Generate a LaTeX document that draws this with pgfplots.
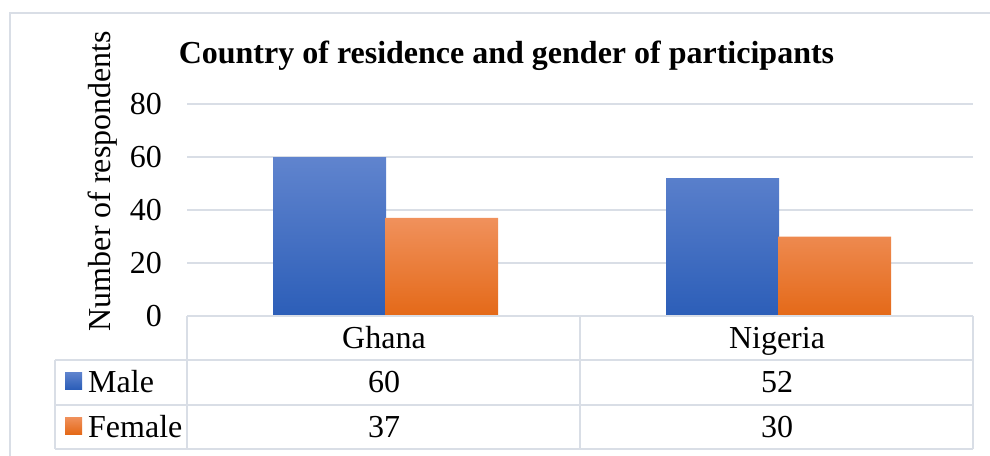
\documentclass[border=0pt]{standalone}
\usepackage{fontspec}
\setmainfont{Liberation Serif}
\usepackage{pgfplots}
\pgfplotsset{compat=1.18}
\definecolor{maleTop}{RGB}{96,132,206}
\definecolor{maleBot}{RGB}{44,94,184}
\definecolor{femTop}{RGB}{240,145,92}
\definecolor{femBot}{RGB}{228,105,24}
\definecolor{gridc}{RGB}{217,222,230}
\newcommand{\bigf}{\fontsize{32bp}{38bp}\selectfont}
\begin{document}
\begin{tikzpicture}
\useasboundingbox (0,0) rectangle (990bp,-456bp);
\begin{axis}[at={(187bp,-316bp)}, anchor=south west, scale only axis,
  width=786bp, height=212bp,
  xmin=-0.5, xmax=1.5, ymin=0, ymax=80, ytick={0,20,...,80}, xtick=\empty,
  ymajorgrids, grid style={gridc, line width=1.5bp},
  axis line style={draw=none}, major tick length=0pt,
  yticklabel style={font=\bigf, anchor=east, inner sep=0pt, xshift=-25bp},
  /pgf/number format/assume math mode=true,
  ybar=0pt, bar width=113bp, clip=false]
\addplot[draw=none, top color=maleTop, bottom color=maleBot, bar shift=-54bp] coordinates {(0,60) (1,52)};
\addplot[draw=none, top color=femTop, bottom color=femBot, bar shift=58bp] coordinates {(0,37) (1,30)};
\end{axis}
% outer frame
\draw[gridc, line width=1.5bp] (10bp,-456bp) -- (10bp,-13bp) -- (990bp,-13bp);
% data table
\begin{scope}[gridc, line width=1.5bp]
\draw (187bp,-316bp) -- (973bp,-316bp);
\draw (55bp,-360bp) -- (973bp,-360bp);
\draw (55bp,-405bp) -- (973bp,-405bp);
\draw (55bp,-449bp) -- (973bp,-449bp);
\draw (55bp,-360bp) -- (55bp,-449bp);
\draw (187bp,-316bp) -- (187bp,-449bp);
\draw (580bp,-316bp) -- (580bp,-449bp);
\draw (973bp,-316bp) -- (973bp,-449bp);
\end{scope}
\begin{scope}[every node/.style={font=\bigf, inner sep=0pt}]
\node[anchor=base] at (384bp,-348bp) {Ghana};
\node[anchor=base] at (777bp,-348bp) {Nigeria};
\node[anchor=base] at (384bp,-392bp) {60};
\node[anchor=base] at (777bp,-392bp) {52};
\node[anchor=base] at (384bp,-437bp) {37};
\node[anchor=base] at (777bp,-437bp) {30};
\node[anchor=base west] at (88bp,-392bp) {Male};
\node[anchor=base west] at (88bp,-437bp) {Female};
\node[anchor=base, font=\bigf\bfseries] at (506.5bp,-63bp) {Country of residence and gender of participants};
\node[anchor=base, rotate=90] at (110bp,-181bp) {Number of respondents};
\end{scope}
\fill[top color=maleTop, bottom color=maleBot] (65bp,-372bp) rectangle (82bp,-389bp);
\fill[top color=femTop, bottom color=femBot] (65bp,-417bp) rectangle (82bp,-434bp);
\end{tikzpicture}
\end{document}
